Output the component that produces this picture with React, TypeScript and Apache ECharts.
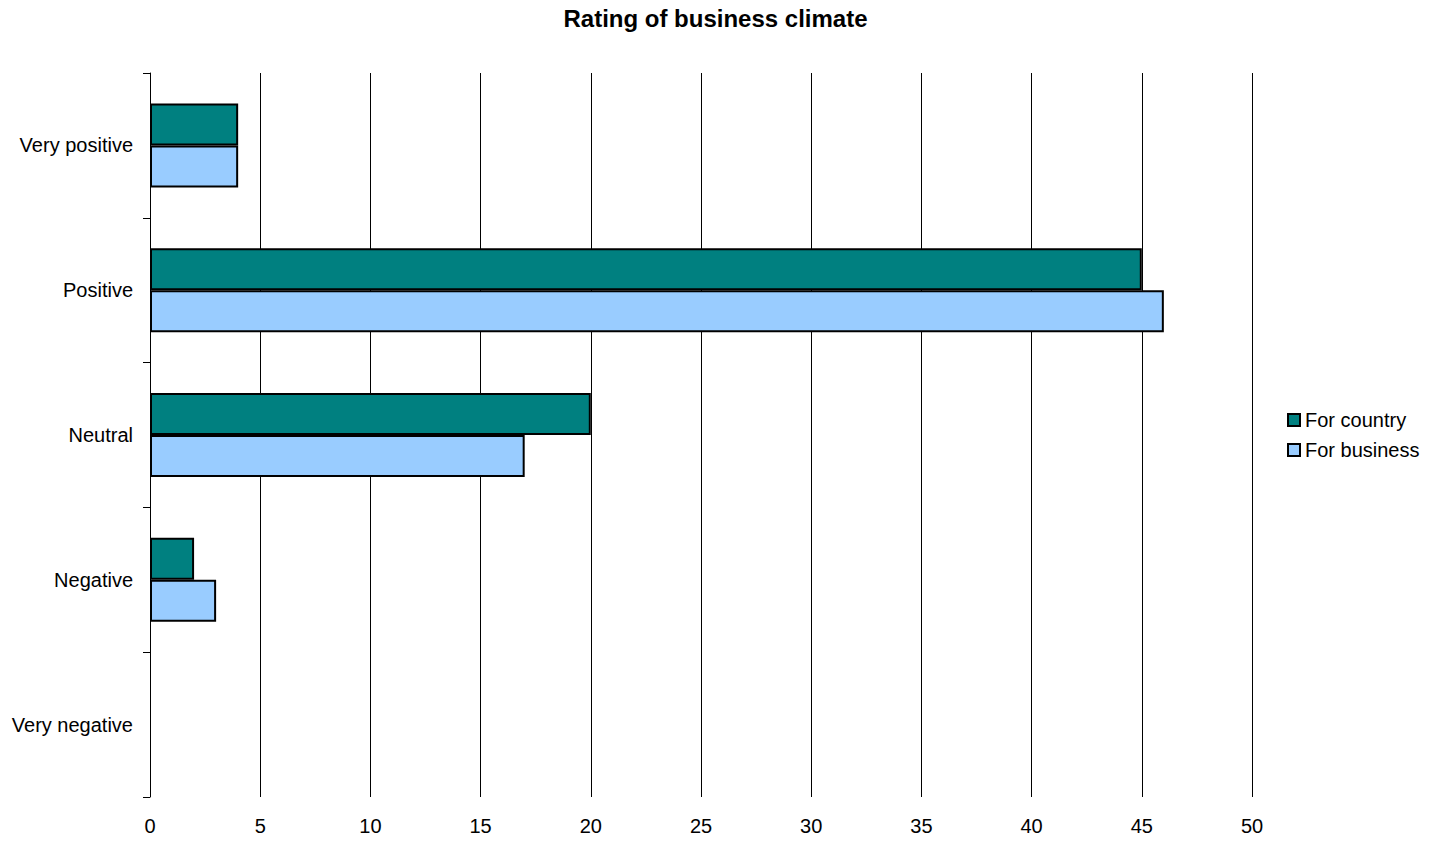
import React, { useEffect, useRef } from "react";
import * as echarts from "echarts";

const categories = ["Very positive", "Positive", "Neutral", "Negative", "Very negative"];
const forCountry = [4, 45, 20, 2, 0];
const forBusiness = [4, 46, 17, 3, 0];
const seriesNames = ["For country", "For business"];

const toItems = (arr: number[]) =>
  arr.map((v) => (v === 0 ? { value: v, itemStyle: { borderWidth: 0, opacity: 0 } } : v));

export default function App() {
  const ref = useRef<HTMLDivElement>(null);
  useEffect(() => {
    document.body.style.margin = "0";
    const chart = echarts.init(ref.current!, null, { renderer: "svg" });
    const font = "'Liberation Sans', Arial, sans-serif";
    chart.setOption({
      animation: false,
      backgroundColor: "#ffffff",
      textStyle: { fontFamily: font },
      title: {
        text: "Rating of business climate",
        left: "center",
        top: 1,
        textStyle: { fontFamily: font, fontSize: 24, fontWeight: "bold", color: "#000" },
      },
      legend: {
        orient: "vertical",
        left: 1282,
        top: 405,
        itemWidth: 12,
        itemHeight: 12,
        itemGap: 10,
        icon: "rect",
        textStyle: { fontFamily: font, fontSize: 20, color: "#000" },
        data: seriesNames,
      },
      grid: { left: 150, right: 179, top: 73, bottom: 46, containLabel: false },
      xAxis: {
        type: "value",
        min: 0,
        max: 50,
        interval: 5,
        axisLine: { show: false },
        axisTick: { show: false },
        axisLabel: { fontFamily: font, fontSize: 20, color: "#000", margin: 19 },
        splitLine: { show: true, lineStyle: { color: "#000", width: 1 } },
      },
      yAxis: {
        type: "category",
        data: categories,
        inverse: true,
        axisLine: { show: true, lineStyle: { color: "#000", width: 1 } },
        axisTick: { show: true, inside: false, length: 7, lineStyle: { color: "#000" } },
        axisLabel: { fontFamily: font, fontSize: 20, color: "#000", margin: 17 },
      },
      series: [
        {
          name: seriesNames[0],
          type: "bar",
          data: toItems(forCountry),
          barGap: "0%",
          barCategoryGap: "42%",
          itemStyle: { color: "#008080", borderColor: "#000", borderWidth: 2 },
        },
        {
          name: seriesNames[1],
          type: "bar",
          data: toItems(forBusiness),
          barGap: "0%",
          barCategoryGap: "42%",
          itemStyle: { color: "#99CCFF", borderColor: "#000", borderWidth: 2 },
        },
      ],
    });
    return () => chart.dispose();
  }, []);
  return <div ref={ref} style={{ position: "absolute", left: 0, top: 0, width: 1431, height: 843 }} />;
}
